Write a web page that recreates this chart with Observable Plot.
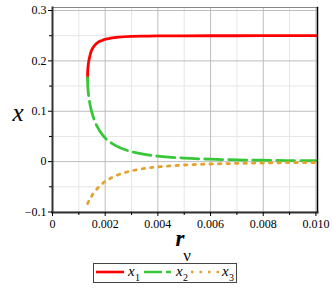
<!DOCTYPE html>
<html><head><meta charset="utf-8">
<script src="https://cdn.jsdelivr.net/npm/d3@7"></script>
<script src="https://cdn.jsdelivr.net/npm/@observablehq/plot@0.6"></script>
<style>
body{margin:0;background:#fff;font-family:"Liberation Serif",serif;}
#wrap{position:relative;width:332px;height:291px;overflow:hidden;}
#chart{position:absolute;left:0;top:0;}
#legend{position:absolute;left:93px;top:263px;width:144px;height:20px;border:1px solid #444;box-sizing:border-box;background:#fff;}
#legend svg{display:block;}
</style></head>
<body><div id="wrap"><div id="chart"></div><div id="legend"></div></div>
<script>
const r  = [0.00133,0.00134,0.00136,0.00138,0.0014,0.00145,0.0015,0.0016,0.0017,0.0018,0.0019,0.002,0.0022,0.0025,0.003,0.0035,0.004,0.005,0.006,0.007,0.008,0.009,0.010];
const x1 = [0.1667,0.1827,0.1934,0.2001,0.2055,0.2160,0.2230,0.2310,0.2360,0.2390,0.2410,0.2430,0.2450,0.2470,0.2486,0.2492,0.2496,0.2498,0.2499,0.2499,0.2500,0.2500,0.2500];
const x2 = [0.1667,0.1495,0.1367,0.1279,0.1208,0.1070,0.0966,0.0808,0.0693,0.0602,0.0531,0.0467,0.0382,0.0290,0.0197,0.0143,0.0109,0.0069,0.0048,0.0035,0.0027,0.0021,0.0017];
const x3 = [-0.0833,-0.0822,-0.0801,-0.0780,-0.0760,-0.0713,-0.0672,-0.0597,-0.0535,-0.0480,-0.0435,-0.0390,-0.0331,-0.0260,-0.0183,-0.0135,-0.0104,-0.0067,-0.0047,-0.0035,-0.0027,-0.0021,-0.0017];
const xMajor = [0,0.002,0.004,0.006,0.008,0.010];
const xMinor = [0.001,0.003,0.005,0.007,0.009];
const yMajor = [-0.1,0,0.1,0.2,0.3];
const yMinor = [-0.05,0.05,0.15,0.25];
const seriesNames = ["1","2","3"];
const colors = ["#ff0000","#38c738","#e3a32e"];
const serif = "Liberation Serif";

const d1 = r.map((v,i)=>({r:v,x:x1[i]}));
const d2 = r.map((v,i)=>({r:v,x:x2[i]}));
const d3s = r.map((v,i)=>({r:v,x:x3[i]}));
const fmtX = d => d===0 ? "0" : d.toFixed(3);
const fmtY = d => d===0 ? "0" : (d<0 ? "\u2212"+Math.abs(d).toFixed(1) : d.toFixed(1));

const plot = Plot.plot({
  width:332, height:272,
  marginLeft:52, marginRight:15, marginTop:7, marginBottom:60,
  style:{fontSize:"12px", background:"transparent"},
  x:{domain:[0,0.01006]},
  y:{domain:[-0.101,0.306]},
  marks:[
    Plot.gridX(xMinor,{stroke:"#e6e6e6",strokeOpacity:1}),
    Plot.gridY(yMinor,{stroke:"#e6e6e6",strokeOpacity:1}),
    Plot.gridX(xMajor,{stroke:"#bdbdbd",strokeOpacity:1}),
    Plot.gridY(yMajor,{stroke:"#bdbdbd",strokeOpacity:1}),
    Plot.line(d1,{x:"r",y:"x",stroke:colors[0],strokeWidth:2.8,curve:"catmull-rom"}),
    Plot.line(d2,{x:"r",y:"x",stroke:colors[1],strokeWidth:2.8,strokeDasharray:"18,6",curve:"catmull-rom"}),
    Plot.line(d3s,{x:"r",y:"x",stroke:colors[2],strokeWidth:2.8,strokeDasharray:"2.5,6",curve:"catmull-rom"}),
    Plot.frame({stroke:"#888"}),
    Plot.frame({anchor:"right",stroke:"#000",strokeWidth:1.5}),
    Plot.frame({anchor:"left",stroke:"#333",strokeWidth:2}),
    Plot.frame({anchor:"bottom",stroke:"#333",strokeWidth:2}),
    Plot.axisX(xMajor,{tickSize:4,tickFormat:fmtX,label:null,tickPadding:3}),
    Plot.axisX(xMinor,{tickSize:3,tickFormat:()=>"",label:null}),
    Plot.axisY(yMajor,{tickSize:4,tickFormat:fmtY,label:null,tickPadding:2}),
    Plot.axisY(yMinor,{tickSize:3,tickFormat:()=>"",label:null}),
    Plot.text(["r"],{frameAnchor:"bottom",dy:33,dx:-5,fontSize:23,fontStyle:"italic",fontWeight:"bold"}),
    Plot.text(["\u03bd"],{frameAnchor:"bottom",dy:48,dx:2,fontSize:17}),
    Plot.text(["x"],{frameAnchor:"left",dx:-40,dy:3,fontSize:25,fontStyle:"italic"})
  ]
});
plot.setAttribute("font-family", serif);
plot.style.fontFamily = "'Liberation Serif', serif";
plot.querySelectorAll("text").forEach(el => { el.style.fontFamily = "'Liberation Serif', serif"; });
document.getElementById("chart").appendChild(plot);

// legend
const lg = d3.select("#legend").append("svg").attr("width",142).attr("height",18);
const items = [{x0:2,x1:30,tx:34,dash:null},{x0:50,x1:77,tx:82,dash:"18,4"},{x0:97,x1:125,tx:128,dash:"2.5,6"}];
items.forEach((it,i)=>{
  const l = lg.append("line").attr("x1",it.x0).attr("x2",it.x1).attr("y1",8).attr("y2",8)
    .attr("stroke",colors[i]).attr("stroke-width",2.6);
  if(it.dash) l.attr("stroke-dasharray",it.dash);
  lg.append("text").attr("x",it.tx).attr("y",12).attr("font-family",serif)
    .attr("font-size",15).attr("font-style","italic").text("x");
  lg.append("text").attr("x",it.tx+7).attr("y",17).attr("font-family",serif)
    .attr("font-size",10).text(seriesNames[i]);
});
</script>
</body></html>
